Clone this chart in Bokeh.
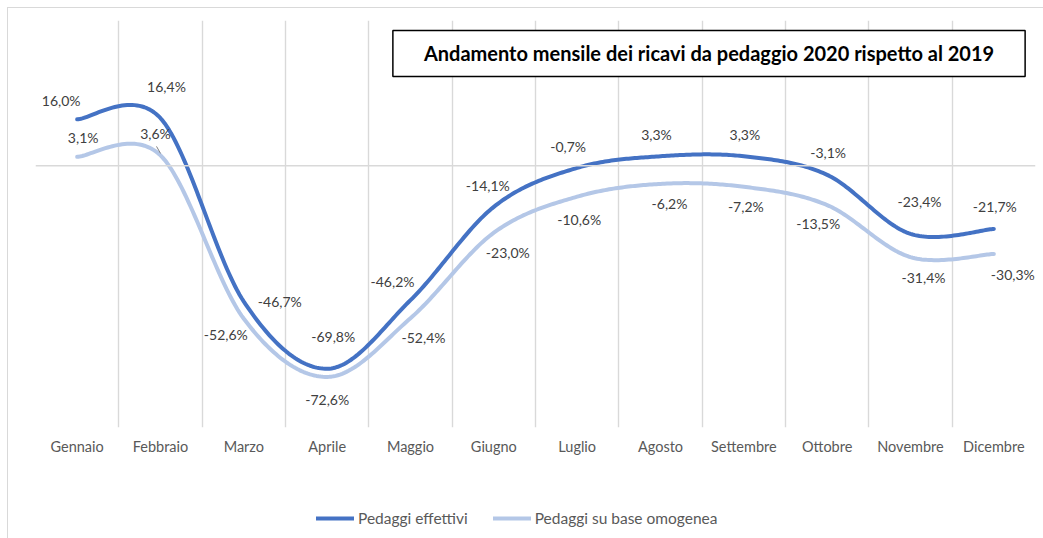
import numpy as np
from bokeh.plotting import figure
from bokeh.layouts import column
from bokeh.models import (Range1d, FixedTicker, Span, Legend, LegendItem, Label,
                          ColumnDataSource)
from bokeh.core.properties import value
from bokeh.embed import file_html
from bokeh.resources import INLINE

# ---------------- data ----------------
months = ["Gennaio", "Febbraio", "Marzo", "Aprile", "Maggio", "Giugno",
          "Luglio", "Agosto", "Settembre", "Ottobre", "Novembre", "Dicembre"]
effettivi = [16.0, 16.4, -46.7, -69.8, -46.2, -14.1, -0.7, 3.3, 3.3, -3.1, -23.4, -21.7]
omogenea = [3.1, 3.6, -52.6, -72.6, -52.4, -23.0, -10.6, -6.2, -7.2, -13.5, -31.4, -30.3]
title_text = "Andamento mensile dei ricavi da pedaggio 2020 rispetto al 2019"
series_names = ["Pedaggi effettivi", "Pedaggi su base omogenea"]

# label placement (pixel offsets of each data label from its point)
eff_dx = [-16, 6, 36, 6, -18, -6, -9, -4, 1, 1, 9, 1]
eff_dy = [-19, -32, 0, -32, -19, -21, -21, -22, -22, -22, -32, -22]
omo_dx = [6, -5, -18, 0, 13, 14, 2, 9, 2, -9, 13, 19]
omo_dy = [-19, -22, 16, 23, 19, 20, 23, 20, 20, 18, 20, 21]

DARK = "#4472C4"
LIGHT = "#B4C7E7"
FONT = "Lato"
GRID = "#d9d9d9"


def fmt(v):
    return ("%.1f%%" % v).replace(".", ",")


def smooth(ys, n=40):
    """Excel-like smoothed line (Catmull-Rom cubic Bezier segments)."""
    xs = np.arange(len(ys), dtype=float)
    ys = np.asarray(ys, dtype=float)
    P = np.column_stack([xs, ys])
    Pe = np.vstack([P[0], P, P[-1]])
    out = []
    t = np.linspace(0, 1, n)[:, None]
    for i in range(len(P) - 1):
        p0, p1 = Pe[i + 1], Pe[i + 2]
        c1 = p0 + (Pe[i + 2] - Pe[i]) / 6.0
        c2 = p1 - (Pe[i + 3] - Pe[i + 1]) / 6.0
        seg = ((1 - t) ** 3) * p0 + 3 * ((1 - t) ** 2) * t * c1 + 3 * (1 - t) * t ** 2 * c2 + t ** 3 * p1
        out.append(seg if i == 0 else seg[1:])
    c = np.vstack(out)
    return c[:, 0], c[:, 1]


Y_MIN, Y_MAX = -90, 50

p = figure(width=1035, height=462, output_backend="svg", toolbar_location=None,
           x_range=Range1d(-0.5, len(months) - 0.5), y_range=Range1d(Y_MIN, Y_MAX),
           y_axis_location=None,
           min_border_left=27, min_border_right=8, min_border_top=12, min_border_bottom=43)
p.outline_line_color = None
p.background_fill_color = "white"
p.border_fill_color = "white"

# grid: vertical lines at category boundaries
p.xgrid.ticker = FixedTicker(ticks=[i - 0.5 for i in range(len(months) + 1)])
p.xgrid.grid_line_color = GRID
p.xgrid.grid_line_width = 1.4
p.ygrid.grid_line_color = None

p.add_layout(Span(location=0, dimension="width", line_color=GRID, line_width=1.5))

# x axis
p.xaxis.ticker = FixedTicker(ticks=list(range(len(months))))
p.xaxis.major_label_overrides = {i: m for i, m in enumerate(months)}
p.xaxis.axis_line_color = None
p.xaxis.major_tick_line_color = None
p.xaxis.minor_tick_line_color = None
p.xaxis.major_label_text_font = FONT
p.xaxis.major_label_text_font_size = "14.5px"
p.xaxis.major_label_text_color = "#595959"
p.xaxis.major_label_standoff = 4

# lines
sx, sy = smooth(omogenea)
r2 = p.line(sx, sy, line_color=LIGHT, line_width=4, line_cap="round", line_join="round")
sx, sy = smooth(effettivi)
r1 = p.line(sx, sy, line_color=DARK, line_width=4, line_cap="round", line_join="round")

# leader line for the February "omogenea" label
ppx = 1000 / len(months)
ppy = 407 / (Y_MAX - Y_MIN)
p.segment(x0=[1 - 4 / ppx], y0=[omogenea[1] + 9 / ppy], x1=[1], y1=[omogenea[1] + 2 / ppy],
          line_color="#7f7f7f", line_width=1)

# data labels
xs = list(range(len(months)))
for vals, dx, dy in ((effettivi, eff_dx, eff_dy), (omogenea, omo_dx, omo_dy)):
    src = ColumnDataSource(dict(x=xs, y=vals, t=[fmt(v) for v in vals], dx=dx, dy=dy))
    p.text(x="x", y="y", text="t", x_offset="dx", y_offset="dy", source=src,
           text_font=value(FONT), text_font_size="14px", text_color="#404040",
           text_align="center", text_baseline="middle")

# title box
title = Label(x=7.582, y=38.65, text=title_text, text_font=FONT, text_font_style="bold",
              text_font_size="20px", text_color="black", text_align="center",
              text_baseline="middle", border_line_color="black", border_line_width=1.5,
              background_fill_color="white",
              padding=dict(left=31, right=31, top=11, bottom=11))
p.add_layout(title)

# legend (separate strip under the chart); proxy lines lie outside the visible range
lg = figure(width=1035, height=68, output_backend="svg", toolbar_location=None,
            x_range=Range1d(0, 1), y_range=Range1d(0, 1),
            x_axis_location=None, y_axis_location=None,
            min_border=0, min_border_left=0, min_border_right=0,
            min_border_top=0, min_border_bottom=0)
lg.outline_line_color = None
lg.grid.grid_line_color = None
lg.background_fill_color = "white"
lg.border_fill_color = "white"
l1 = lg.line([5, 6], [5, 6], line_color=DARK, line_width=4, line_cap="round")
l2 = lg.line([5, 6], [5, 6], line_color=LIGHT, line_width=4, line_cap="round")
legend = Legend(items=[LegendItem(label=series_names[0], renderers=[l1]),
                       LegendItem(label=series_names[1], renderers=[l2])],
                orientation="horizontal", location=(281, 10),
                glyph_width=38, glyph_height=20, label_standoff=4, spacing=25,
                padding=0, margin=0, border_line_color=None, background_fill_alpha=0,
                label_text_font=FONT, label_text_font_size="15.5px",
                label_text_color="#595959", label_height=20)
lg.add_layout(legend, "center")

layout = column(p, lg, spacing=0)
layout.margin = (8, 0, 0, 8)
layout.styles = {"outline": "1px solid #d9d9d9"}

open("out.html", "w").write(file_html(layout, INLINE))
